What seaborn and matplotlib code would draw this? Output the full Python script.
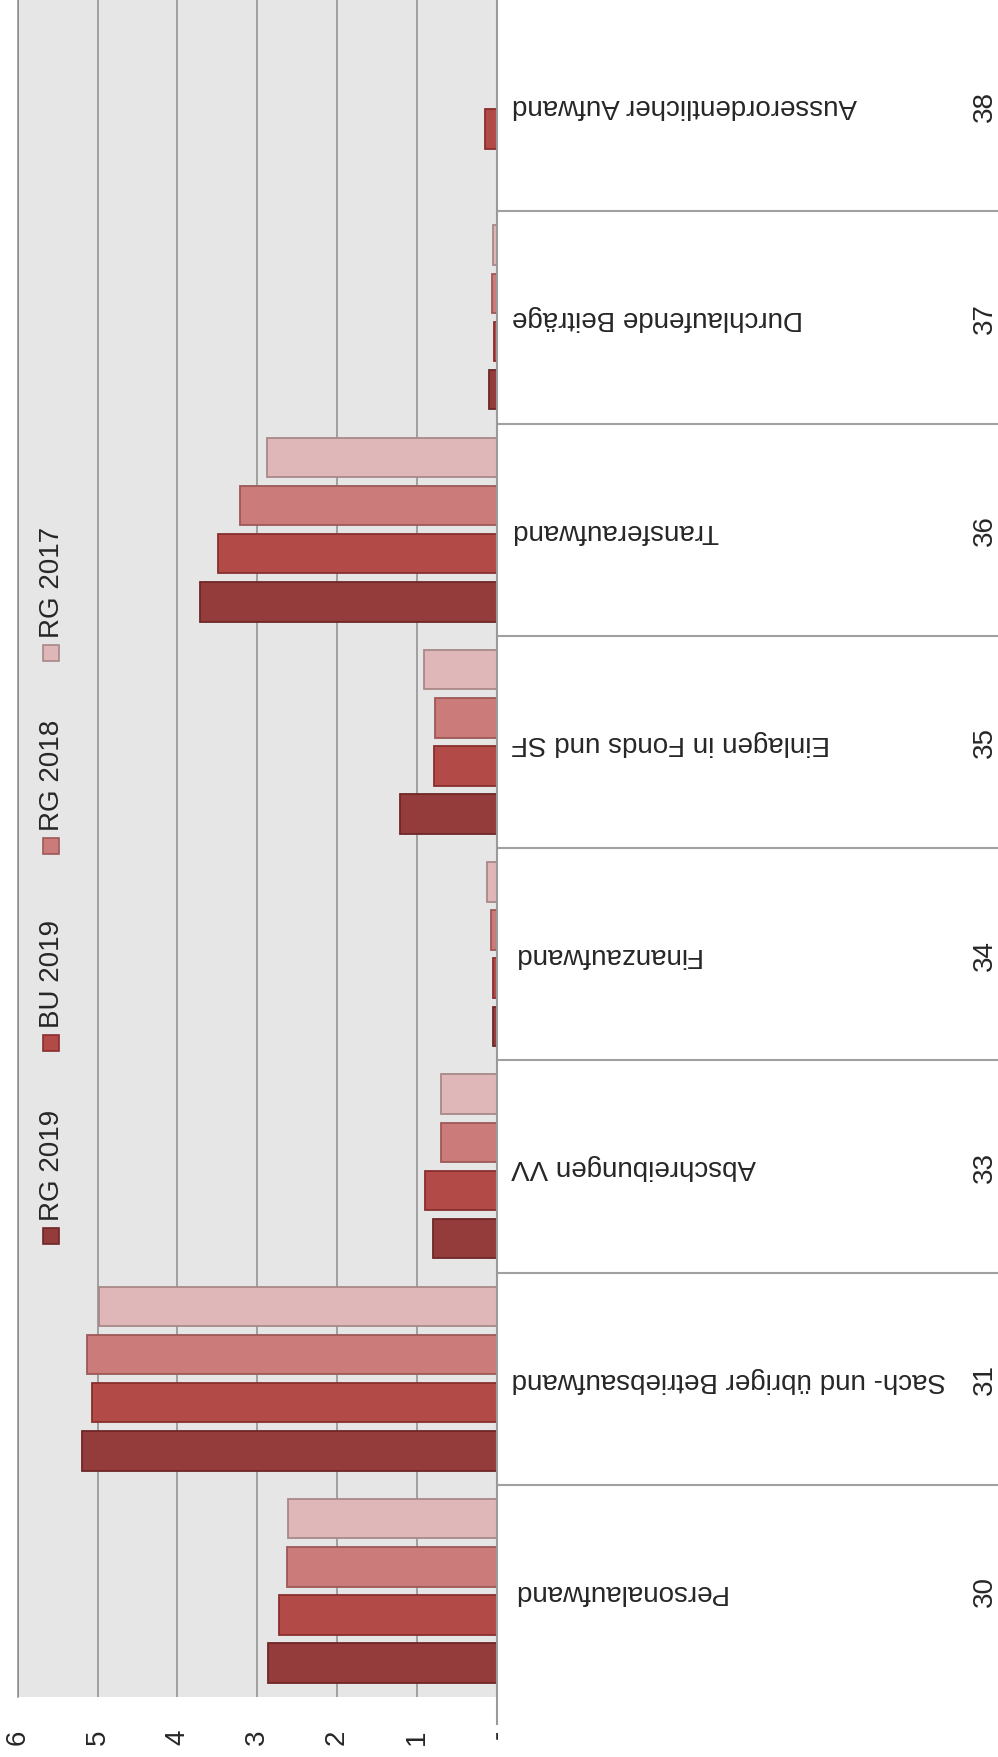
import matplotlib.pyplot as plt
from matplotlib.patches import Rectangle
import pandas as pd
import seaborn as sns

# data
codes = ['30', '31', '33', '34', '35', '36', '37', '38']
names = ['Personalaufwand', 'Sach- und übriger Betriebsaufwand', 'Abschreibungen VV',
         'Finanzaufwand', 'Einlagen in Fonds und SF', 'Transferaufwand',
         'Durchlaufende Beiträge', 'Ausserordentlicher Aufwand']
series = ['RG 2019', 'BU 2019', 'RG 2018', 'RG 2017']
rg2019 = [2.86, 5.20, 0.80, 0.05, 1.21, 3.71, 0.10, 0.0]
bu2019 = [2.73, 5.07, 0.90, 0.04, 0.78, 3.49, 0.035, 0.15]
rg2018 = [2.63, 5.13, 0.70, 0.066, 0.77, 3.22, 0.055, 0.0]
rg2017 = [2.61, 4.98, 0.70, 0.12, 0.91, 2.88, 0.04, 0.0]
ticks = [0, 1, 2, 3, 4, 5, 6]
tick_labels = ['-', '1', '2', '3', '4', '5', '6']

fills = ['#943b3b', '#b24b48', '#ca7b7a', '#dfb7b8']
edges = ['#6f2727', '#8a2e2e', '#9e5858', '#a88888']

df = pd.DataFrame({
    'code': codes * 4,
    'series': [s for s in series for _ in codes],
    'value': rg2019 + bu2019 + rg2018 + rg2017,
})

sns.set_style('white')
plt.rcParams['font.family'] = ['Liberation Sans', 'DejaVu Sans']

W, H = 998, 1758
fig = plt.figure(figsize=(W / 100, H / 100), dpi=100)

# plot area (rotated layout: bars grow to the left)
x0, x1, ybot = 17.7, 496.5, 1698
ax = fig.add_axes([x0 / W, (H - ybot) / H, (x1 - x0) / W, ybot / H])
ax.set_facecolor('#e6e6e6')
sns.barplot(data=df, x='value', y='code', hue='series', order=codes,
            hue_order=series, palette=dict(zip(series, fills)), orient='h',
            width=0.907, gap=0.18, linewidth=1.3, saturation=1,
            errorbar=None, legend=False, ax=ax)
for cont, ec in zip(ax.containers, edges):
    for bar in cont:
        bar.set_edgecolor(ec)

ax.set_ylim(-0.5, 7.5)
ax.set_xlim(6, 0)
ax.set_xticks(ticks)
ax.set_xticklabels(tick_labels)
ax.tick_params(axis='x', length=0, pad=23, labelsize=20, labelrotation=90)
ax.set_yticks([])
ax.set_xlabel('')
ax.set_ylabel('')
ax.grid(axis='x', color='#8c8c8c', linewidth=1.1)
ax.set_axisbelow(True)
for s in ['top', 'right', 'bottom']:
    ax.spines[s].set_visible(False)
ax.spines['left'].set_color('#8c8c8c')
ax.spines['left'].set_linewidth(1.1)

# legend drawn by hand, rotated
leg_y = [1237, 1044, 847, 654]
for s, fc, ec, yc in zip(series, fills, edges, leg_y):
    fig.patches.append(Rectangle(((51 - 8) / W, (H - yc - 8) / H), 16 / W, 16 / H,
                                 facecolor=fc, edgecolor=ec, linewidth=1.2,
                                 transform=fig.transFigure))
    fig.text(52 / W, (H - yc + 16) / H, s, rotation=90, ha='center', va='bottom',
             fontsize=20)

# table with account names and codes (reaches a little below the plot)
tbot = 1725
cat_px = ybot / len(codes)
ax2 = fig.add_axes([x1 / W, (H - tbot) / H, (W - x1) / W, tbot / H])
ax2.set_facecolor('white')
ax2.set_xlim(0, 1)
ax2.set_ylim(-0.5 - (tbot - ybot) / cat_px, 7.5)
ax2.set_xticks([])
ax2.set_yticks([])
for s in ['top', 'right', 'bottom']:
    ax2.spines[s].set_visible(False)
ax2.spines['left'].set_color('#9a9a9a')
ax2.spines['left'].set_linewidth(1.5)
for i in range(len(codes) - 1):
    ax2.axhline(i + 0.5, color='#a0a0a0', linewidth=1.5)
for i, (c, n) in enumerate(zip(codes, names)):
    ax2.text(0.03, i, n, rotation=180, ha='left', va='center', fontsize=20)
    ax2.text(0.974, i, c, rotation=90, ha='center', va='center', fontsize=20)

fig.savefig('out.png', dpi=100)
